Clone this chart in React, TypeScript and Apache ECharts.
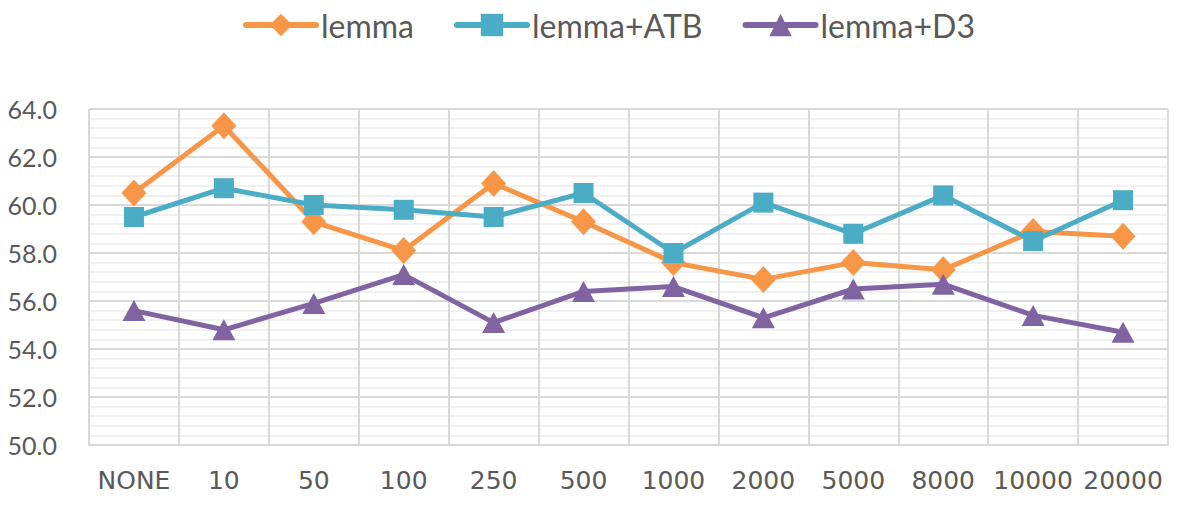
import React, { useEffect, useRef } from "react";
import * as echarts from "echarts";

const categories = ["NONE", "10", "50", "100", "250", "500", "1000", "2000", "5000", "8000", "10000", "20000"];
const lemma = [60.5, 63.3, 59.3, 58.1, 60.9, 59.3, 57.6, 56.9, 57.6, 57.3, 58.9, 58.7];
const lemmaATB = [59.5, 60.7, 60.0, 59.8, 59.5, 60.5, 58.0, 60.1, 58.8, 60.4, 58.5, 60.2];
const lemmaD3 = [55.6, 54.8, 55.9, 57.1, 55.1, 56.4, 56.6, 55.3, 56.5, 56.7, 55.4, 54.7];
const seriesNames = ["lemma", "lemma+ATB", "lemma+D3"];

const COLORS = ["#F79646", "#4BACC6", "#8064A2"];
const TEXT = "#595959";

export default function App() {
  const ref = useRef<HTMLDivElement>(null);
  useEffect(() => {
    if (!ref.current) return;
    const chart = echarts.init(ref.current, null, { renderer: "svg" });
    const mk = (name: string, data: number[], color: string, symbol: string, size: number | number[]) => ({
      name,
      type: "line",
      data,
      symbol,
      symbolSize: size,
      showSymbol: true,
      lineStyle: { color, width: 5 },
      itemStyle: { color, borderWidth: 0 },
      emphasis: { disabled: true },
    });
    chart.setOption({
      animation: false,
      backgroundColor: "#ffffff",
      color: COLORS,
      legend: {
        top: 4,
        left: 238,
        itemWidth: 70,
        itemHeight: 28,
        itemGap: 40,
        lineStyle: { width: 6, cap: "round" },
        textStyle: { fontFamily: "Lato", fontSize: 32, color: TEXT },
        data: seriesNames,
      },
      grid: { left: 89, right: 10, top: 109, bottom: 73, containLabel: false },
      xAxis: {
        type: "category",
        data: categories,
        boundaryGap: true,
        axisLine: { show: true, lineStyle: { color: "#D9D9D9", width: 2 } },
        axisTick: { show: false },
        splitLine: { show: true, lineStyle: { color: "#D9D9D9", width: 2 } },
        axisLabel: {
          interval: 0,
          margin: 23,
          fontFamily: "DejaVu Sans",
          fontSize: 25,
          color: TEXT,
        },
      },
      yAxis: {
        type: "value",
        min: 50,
        max: 64,
        interval: 2,
        axisLine: { show: false },
        axisTick: { show: false },
        axisLabel: {
          margin: 32,
          fontFamily: "Lato",
          fontSize: 25,
          color: TEXT,
          formatter: (v: number) => v.toFixed(1),
        },
        splitLine: { show: true, lineStyle: { color: "#D9D9D9", width: 2 } },
        minorTick: { show: false, splitNumber: 5 },
        minorSplitLine: { show: true, lineStyle: { color: "#F0F0F0", width: 2 } },
      },
      series: [
        mk(seriesNames[0], lemma, COLORS[0], "diamond", [25, 27]),
        mk(seriesNames[1], lemmaATB, COLORS[1], "rect", 20),
        mk(seriesNames[2], lemmaD3, COLORS[2], "triangle", [23, 21]),
      ],
    });
    return () => chart.dispose();
  }, []);
  return (
    <div
      ref={ref}
      style={{ position: "absolute", left: 0, top: 0, width: 1178, height: 518 }}
    />
  );
}
